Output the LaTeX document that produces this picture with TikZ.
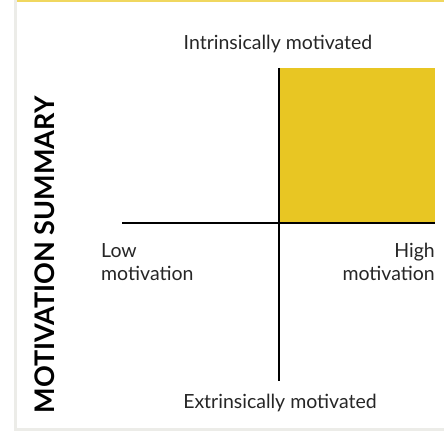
\documentclass[tikz,border=0pt]{standalone}
\usepackage{fontspec}
\setmainfont{Lato}
\definecolor{qyellow}{RGB}{232,198,35}
\definecolor{topyellow}{RGB}{240,215,95}
\definecolor{framegray}{RGB}{236,236,232}
\tikzset{
  axis/.style={line width=2pt, black},
  lbl/.style={font=\fontsize{19.5}{22}\selectfont, text=black!85, inner sep=0pt},
  ttl/.style={font=\fontsize{27}{30}\selectfont\bfseries, rotate=90, inner sep=0pt}
}
\begin{document}
\begin{tikzpicture}[x=1pt,y=-1pt]
\useasboundingbox (0,0) rectangle (444,433);
\fill[white] (0,0) rectangle (444,433);
% frame
\fill[framegray] (13.5,0) rectangle (16.5,431);
\fill[framegray] (13.5,428) rectangle (444,431);
\fill[topyellow] (16.5,0) rectangle (444,2);
% quadrant
\fill[qyellow] (279,68) rectangle (435,223);
\coordinate (top) at (279,68);
\coordinate (bot) at (279,381);
\coordinate (left) at (122,223);
\coordinate (right) at (435,223);
\draw[axis] (top) -- (bot);
\draw[axis] (left) -- (right);
% labels
\node[lbl, anchor=base] (intr) at (278,50) {Intrinsically motivated};
\node[lbl, anchor=base] (extr) at (280,408) {Extrinsically motivated};
\node[lbl, anchor=base west] (low) at (101,257) {Low};
\node[lbl, anchor=base west] (lowm) at (101,280) {motivation};
\node[lbl, anchor=base east] (high) at (435,257) {High};
\node[lbl, anchor=base east] (highm) at (435,280) {motivation};
\node[ttl] (title) at (45,255) {MOTIVATION SUMMARY};
\end{tikzpicture}
\end{document}
